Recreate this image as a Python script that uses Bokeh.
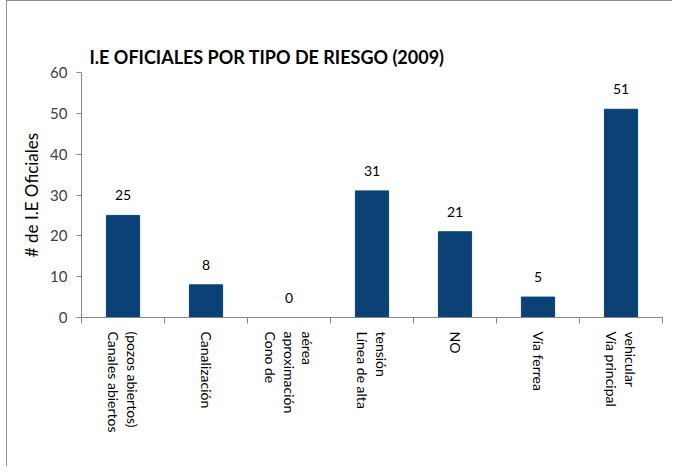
from bokeh.plotting import figure
from bokeh.models import (Range1d, LinearAxis, FixedTicker, ColumnDataSource, LabelSet)
from bokeh.core.properties import value
from bokeh.embed import file_html
from bokeh.resources import INLINE

categories = ["Canales abiertos\n(pozos abiertos)", "Canalización", "Cono de\naproximación\naérea",
              "Línea de alta\ntensión", "NO", "Vía ferrea", "Vía principal\nvehicular"]
values = [25, 8, 0, 31, 21, 5, 51]
y_ticks = [0, 10, 20, 30, 40, 50, 60]
title_text = "I.E OFICIALES POR TIPO DE RIESGO (2009)"
y_label = "# de I.E Oficiales"

BAR = "#0A4275"
TXT = "#404040"
AX = "#868686"
FONT = "Lato"

n = len(categories)
centers = [i + 0.5 for i in range(n)]
bounds = list(range(n + 1))

p = figure(width=666, height=466, x_range=Range1d(0, n), y_range=Range1d(0, 60),
           output_backend="svg", toolbar_location=None, x_axis_location=None,
           min_border_left=74, min_border_right=11, min_border_top=71, min_border_bottom=150)
p.styles = {"margin-left": "6px", "border-left": "1px solid #8c8c8c",
            "border-top": "1px solid #8c8c8c"}

p.title.text = title_text
p.title.text_font = FONT
p.title.text_font_size = "18px"
p.title.text_font_style = "bold"
p.title.text_color = "#000000"
p.title.align = "left"
p.title.offset = 8
p.title.standoff = 10

p.grid.visible = False
p.outline_line_color = None

# y axis
ya = p.yaxis[0]
ya.ticker = FixedTicker(ticks=y_ticks)
ya.axis_line_color = AX
ya.major_tick_line_color = AX
ya.major_tick_out = 5
ya.major_tick_in = 0
ya.minor_tick_line_color = None
ya.major_label_text_font = FONT
ya.major_label_text_font_size = "15px"
ya.major_label_text_color = TXT
ya.major_label_standoff = 9
ya.axis_label = y_label
ya.axis_label_text_font = FONT
ya.axis_label_text_font_size = "17px"
ya.axis_label_text_font_style = "normal"
ya.axis_label_text_color = "#000000"
ya.axis_label_standoff = 5

# x axis: labels at category centres, tick marks at category boundaries
# (lines reversed only for display, Bokeh stacks rotated lines right-to-left)
display_labels = ["\n".join(reversed(c.split("\n"))) for c in categories]
xa = LinearAxis(ticker=FixedTicker(ticks=centers, minor_ticks=bounds),
                major_label_overrides={c: lab for c, lab in zip(centers, display_labels)},
                axis_line_color=AX, major_tick_line_color=None,
                minor_tick_line_color=AX, minor_tick_out=6, minor_tick_in=0,
                major_label_orientation="vertical", major_label_text_font=FONT,
                major_label_text_font_size="14px", major_label_text_color="#000000",
                major_label_text_line_height=1.1, major_label_standoff=8)
p.add_layout(xa, "below")

src = ColumnDataSource(dict(x=centers, val=values, lab=[str(v) for v in values]))
p.vbar(x="x", top="val", width=0.4, source=src, fill_color=BAR, line_color=BAR)

labels = LabelSet(x="x", y="val", text="lab", source=src, text_align="center",
                  text_baseline="middle", y_offset=20, text_font=value(FONT), text_font_size="14px",
                  text_color="#000000")
p.add_layout(labels)

open("out.html", "w").write(file_html(p, INLINE))
